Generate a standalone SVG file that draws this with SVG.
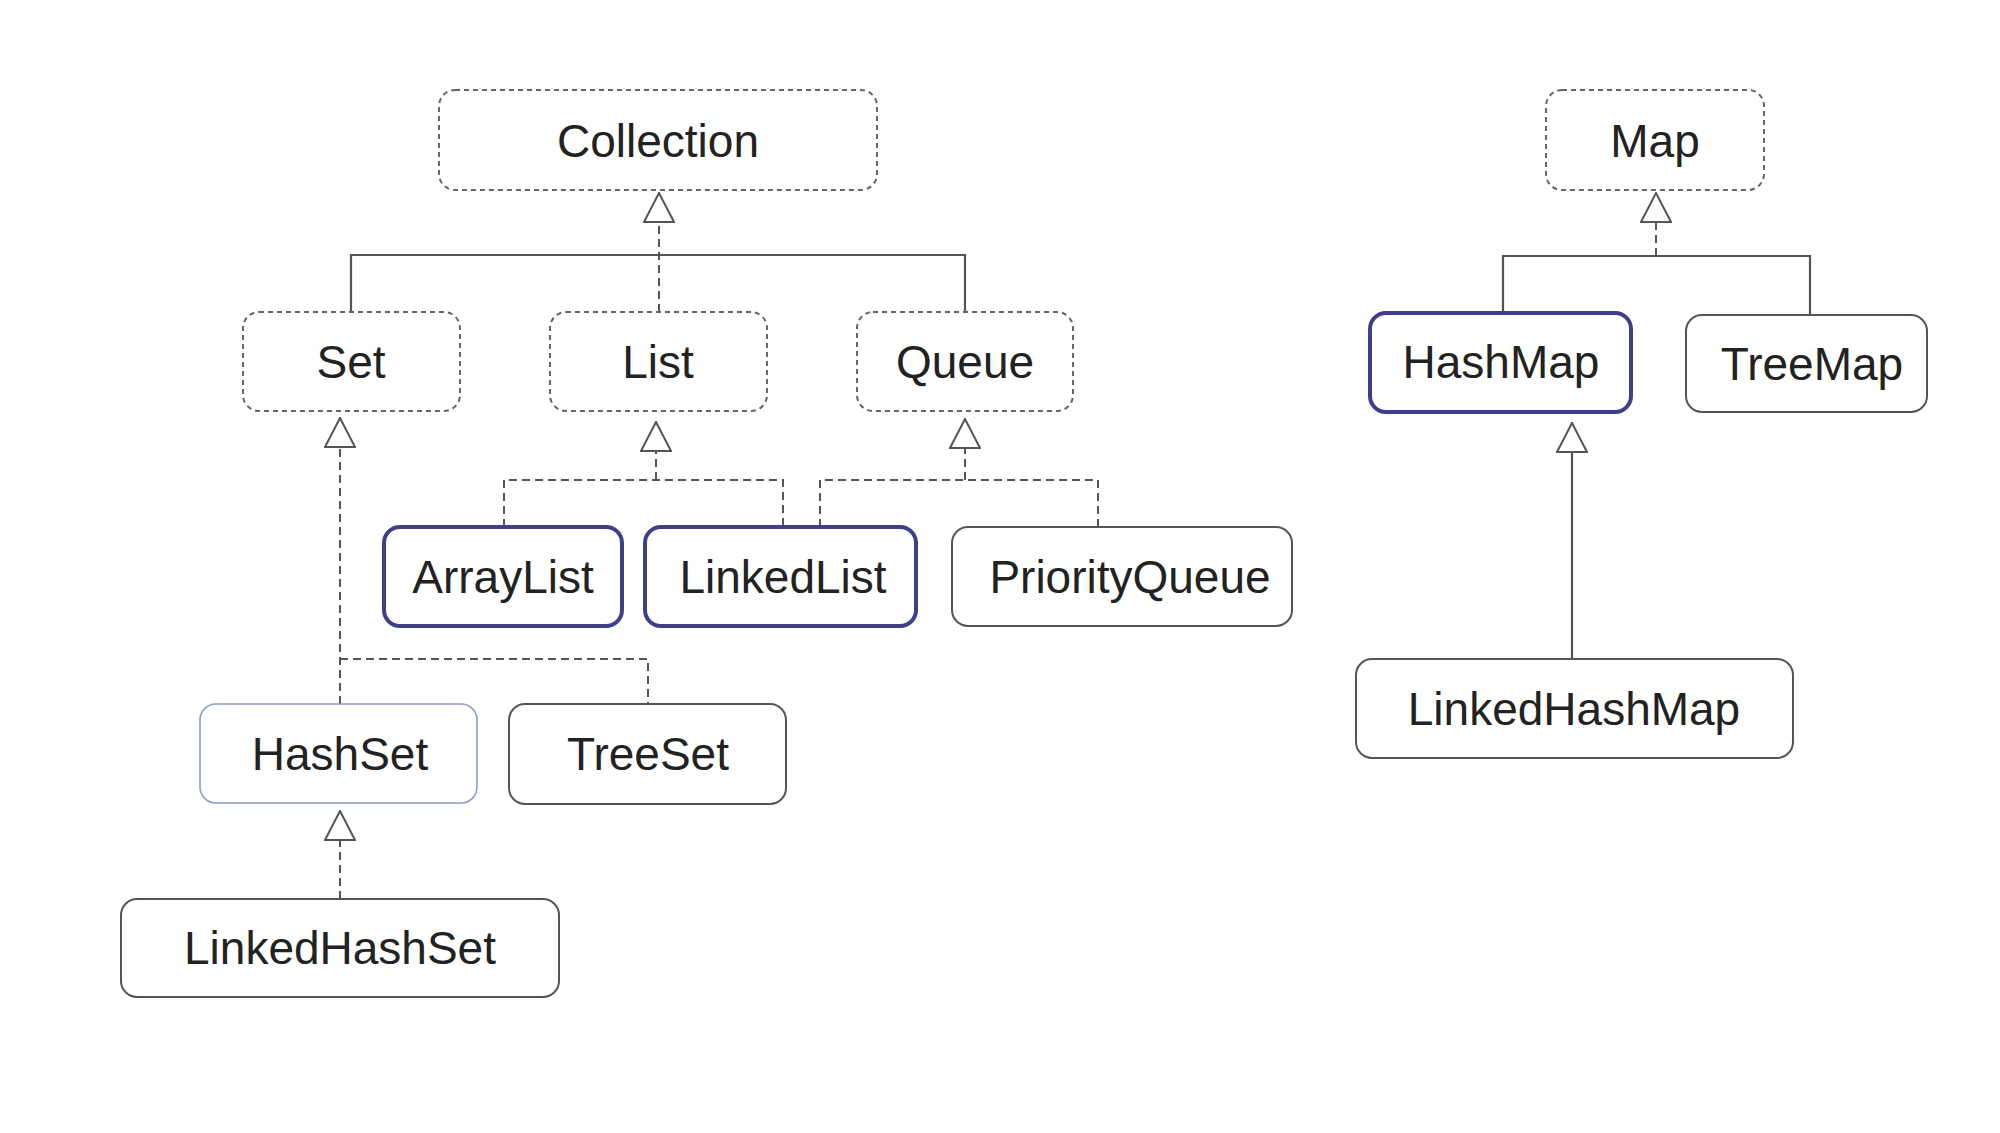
<svg xmlns="http://www.w3.org/2000/svg" width="2000" height="1133" viewBox="0 0 2000 1133">
<style>
  .iface { fill: #fff; stroke: #666; stroke-width: 2; stroke-dasharray: 5 4; }
  .cls { fill: #fff; stroke: #555; stroke-width: 2; }
  .hl { fill: #fff; stroke: #3d4088; stroke-width: 4; }
  .lt { fill: #fff; stroke: #8d9acb; stroke-width: 1.6; }
  .lbl { font-family: "Liberation Sans", Arial, Helvetica, sans-serif; font-size: 46px; fill: #222; text-anchor: middle; }
  .dash { fill: none; stroke: #555; stroke-width: 2; stroke-dasharray: 8 5; }
  .solid { fill: none; stroke: #555; stroke-width: 2.2; }
</style>
<defs>
  <marker id="tri" viewBox="0 0 31 32" refX="31" refY="16" markerWidth="31" markerHeight="32" markerUnits="userSpaceOnUse" orient="auto">
    <path d="M1,1 L30,16 L1,31 Z" fill="#fff" stroke="#555" stroke-width="2" stroke-linejoin="miter"/>
  </marker>
</defs>
<rect width="2000" height="1133" fill="#fff"/>

<g id="connectors">
  <path class="solid" d="M351,312 V255 H965 V312"/>
  <path class="dash" d="M659,312 V192" marker-end="url(#tri)"/>
  <path class="dash" d="M340,704 V417" marker-end="url(#tri)"/>
  <path class="dash" d="M340,659 H648 V704"/>
  <path class="dash" d="M656,480 V421" marker-end="url(#tri)"/>
  <path class="dash" d="M504,527 V480 H783 V527"/>
  <path class="dash" d="M965,480 V418" marker-end="url(#tri)"/>
  <path class="dash" d="M820,527 V480 H1098 V527"/>
  <path class="dash" d="M340,899 V810" marker-end="url(#tri)"/>
  <path class="dash" d="M1656,256 V192" marker-end="url(#tri)"/>
  <path class="solid" d="M1503,312 V256 H1810 V315"/>
  <path class="solid" d="M1572,659 V422" marker-end="url(#tri)"/>
</g>

<g id="Collection"><rect class="iface" x="439" y="90" width="438" height="100" rx="16"/><text class="lbl" x="658" y="157">Collection</text></g>
<g id="Set"><rect class="iface" x="243" y="312" width="217" height="99" rx="16"/><text class="lbl" x="351" y="378">Set</text></g>
<g id="List"><rect class="iface" x="550" y="312" width="217" height="99" rx="16"/><text class="lbl" x="658" y="378">List</text></g>
<g id="Queue"><rect class="iface" x="857" y="312" width="216" height="99" rx="16"/><text class="lbl" x="965" y="378">Queue</text></g>
<g id="ArrayList"><rect class="hl" x="384" y="527" width="238" height="99" rx="16"/><text class="lbl" x="503" y="593">ArrayList</text></g>
<g id="LinkedList"><rect class="hl" x="645" y="527" width="271" height="99" rx="16"/><text class="lbl" x="783" y="593">LinkedList</text></g>
<g id="PriorityQueue"><rect class="cls" x="952" y="527" width="340" height="99" rx="16"/><text class="lbl" x="1130" y="593">PriorityQueue</text></g>
<g id="HashSet"><rect class="lt" x="200" y="704" width="277" height="99" rx="16"/><text class="lbl" x="340" y="770">HashSet</text></g>
<g id="TreeSet"><rect class="cls" x="509" y="704" width="277" height="100" rx="16"/><text class="lbl" x="648" y="770">TreeSet</text></g>
<g id="LinkedHashSet"><rect class="cls" x="121" y="899" width="438" height="98" rx="16"/><text class="lbl" x="340" y="964">LinkedHashSet</text></g>
<g id="Map"><rect class="iface" x="1546" y="90" width="218" height="100" rx="16"/><text class="lbl" x="1655" y="157">Map</text></g>
<g id="HashMap"><rect class="hl" x="1370" y="313" width="261" height="99" rx="16"/><text class="lbl" x="1501" y="378">HashMap</text></g>
<g id="TreeMap"><rect class="cls" x="1686" y="315" width="241" height="97" rx="16"/><text class="lbl" x="1812" y="380">TreeMap</text></g>
<g id="LinkedHashMap"><rect class="cls" x="1356" y="659" width="437" height="99" rx="16"/><text class="lbl" x="1574" y="725">LinkedHashMap</text></g>
</svg>
